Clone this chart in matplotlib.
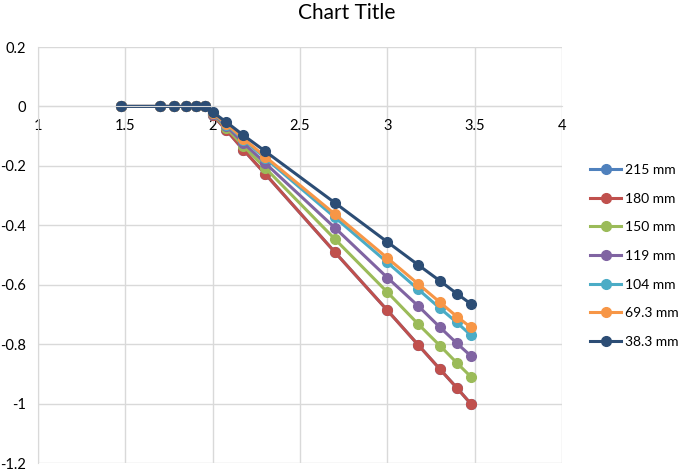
import matplotlib
matplotlib.use('Agg')
import matplotlib.pyplot as plt
from matplotlib.ticker import FuncFormatter, MultipleLocator

plt.rcParams['font.family'] = ['Lato', 'DejaVu Sans']

# log10 of stress points
x = [1.477, 1.699, 1.778, 1.845, 1.903, 1.954, 2.0, 2.079, 2.176, 2.301,
     2.699, 3.0, 3.176, 3.301, 3.398, 3.477]

zeros = [0, 0, 0, 0, 0, 0]
s215 = zeros + [-0.029, -0.080, -0.146, -0.227, -0.490, -0.686, -0.802, -0.884, -0.947, -1.000]
s180 = zeros + [-0.029, -0.080, -0.146, -0.227, -0.490, -0.686, -0.802, -0.884, -0.947, -1.000]
s150 = zeros + [-0.026, -0.073, -0.133, -0.207, -0.446, -0.625, -0.732, -0.805, -0.863, -0.909]
s119 = zeros + [-0.024, -0.067, -0.123, -0.191, -0.408, -0.576, -0.671, -0.743, -0.797, -0.839]
s104 = zeros + [-0.022, -0.061, -0.112, -0.174, -0.373, -0.525, -0.615, -0.679, -0.727, -0.769]
s69 = zeros + [-0.021, -0.059, -0.108, -0.169, -0.362, -0.510, -0.597, -0.659, -0.707, -0.743]
s38 = zeros + [-0.019, -0.053, -0.097, -0.151, -0.324, -0.456, -0.533, -0.587, -0.630, -0.664]

labels = ['215 mm', '180 mm', '150 mm', '119 mm', '104 mm', '69.3 mm', '38.3 mm']
series = [s215, s180, s150, s119, s104, s69, s38]
colors = ['#4F81BD', '#C0504D', '#9BBB59', '#8064A2', '#4BACC6', '#F79646', '#2C4D75']

fig = plt.figure(figsize=(6.85, 4.74), dpi=100)
ax = fig.add_axes([0.0555, 0.0232, 0.7649, 0.8776])

for y, lab, c in zip(series, labels, colors):
    ax.plot(x, y, color=c, lw=2.2, marker='o', ms=7, label=lab)

ax.set_xlim(1, 4)
ax.set_ylim(-1.2, 0.2)
ax.xaxis.set_major_locator(MultipleLocator(0.5))
ax.yaxis.set_major_locator(MultipleLocator(0.2))
ax.grid(True, color='#D9D9D9', lw=1)
ax.set_axisbelow(True)

def fmt(v, pos):
    s = f'{v:.1f}'.rstrip('0').rstrip('.')
    if s in ('-0', ''):
        s = '0'
    return s

ax.xaxis.set_major_formatter(FuncFormatter(fmt))
ax.yaxis.set_major_formatter(FuncFormatter(fmt))

for side in ['top', 'right']:
    ax.spines[side].set_visible(False)
ax.spines['bottom'].set_position(('data', 0))
ax.spines['bottom'].set_color('#D9D9D9')
ax.spines['left'].set_color('#D9D9D9')
ax.tick_params(axis='both', length=0, labelsize=10.5, colors='black')
ax.tick_params(axis='x', pad=9)
ax.tick_params(axis='y', pad=9)

fig.text(0.506, 0.972, 'Chart Title', ha='center', va='center', fontsize=15)

ax.legend(loc='center left', bbox_to_anchor=(0.862, 0.46), bbox_transform=fig.transFigure,
          frameon=False, fontsize=10, labelspacing=1.2, handlelength=2.2,
          handletextpad=0.3, borderaxespad=0, borderpad=0)

plt.savefig('out.png', dpi=100)
